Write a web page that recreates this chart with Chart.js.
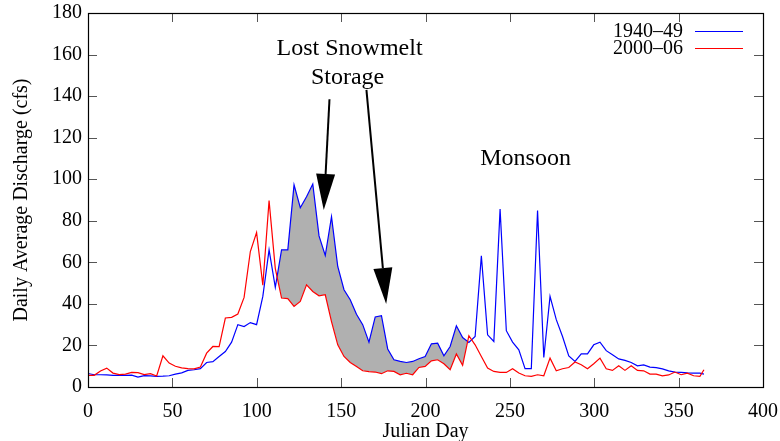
<!DOCTYPE html>
<html>
<head>
<meta charset="utf-8">
<title>Daily Average Discharge</title>
<script src="https://cdn.jsdelivr.net/npm/chart.js@4.4.1/dist/chart.umd.min.js"></script>
<style>
  html, body { margin: 0; padding: 0; background: #fff; }
  #wrap { width: 780px; height: 441px; }
</style>
</head>
<body>
<div id="wrap"><canvas id="flowChart" width="780" height="441"></canvas></div>
<script>
// Julian day of each averaged point
var days = [0, 3.7, 7.4, 11.1, 14.8, 18.5, 22.2, 25.9, 29.6, 33.3, 37.0, 40.7, 44.4, 48.1, 51.8, 55.5, 59.2, 62.9, 66.6, 70.3,
  74.0, 77.7, 81.4, 85.1, 88.8, 92.5, 96.2, 99.9, 103.6, 107.3, 111.0, 114.7, 118.4, 122.1, 125.8, 129.5, 133.2, 136.9, 140.6, 144.3,
  148.0, 151.7, 155.4, 159.1, 162.8, 166.5, 170.2, 173.9, 177.6, 181.3, 185.0, 188.7, 192.4, 196.1, 199.8, 203.5, 207.2, 210.9, 214.6, 218.3,
  222.0, 225.7, 229.4, 233.1, 236.8, 240.5, 244.2, 247.9, 251.6, 255.3, 259.0, 262.7, 266.4, 270.1, 273.8, 277.5, 281.2, 284.9, 288.6, 292.3,
  296.0, 299.7, 303.4, 307.1, 310.8, 314.5, 318.2, 321.9, 325.6, 329.3, 333.0, 336.7, 340.4, 344.1, 347.8, 351.5, 355.2, 358.9, 362.6, 365.0];

// 1940-49 daily average discharge (cfs)
var flow1940s = [6.5, 5.9, 5.9, 5.8, 5.6, 5.6, 5.6, 5.7, 4.8, 5.5, 5.4, 5.1, 5.2, 5.4, 6.2, 6.8, 8.0, 8.3, 8.8, 11.8,
  12.2, 14.7, 17.1, 21.6, 30.0, 29.1, 31.0, 30.0, 43.6, 66.0, 48.0, 66.0, 66.0, 97.3, 86.3, 91.6, 97.7, 72.7, 63.3, 82.0,
  58.0, 46.8, 42.0, 35.0, 30.0, 21.6, 33.7, 34.3, 18.3, 13.1, 12.3, 11.8, 12.3, 13.6, 14.7, 20.8, 21.1, 15.0, 19.5, 29.5,
  23.8, 21.4, 24.3, 63.1, 25.1, 21.9, 85.6, 27.1, 21.6, 17.9, 8.8, 8.8, 84.9, 14.2, 43.6, 32.4, 24.3, 15.0, 12.3, 15.9,
  15.9, 20.3, 21.6, 17.5, 15.5, 13.5, 12.8, 11.8, 10.2, 10.6, 9.6, 9.3, 8.7, 7.8, 7.2, 7.0, 6.8, 6.7, 6.7, 6.2];

// 2000-06 daily average discharge (cfs)
var flow2000s = [5.6, 5.6, 7.7, 9.1, 6.7, 6.0, 6.2, 7.0, 6.9, 6.0, 6.4, 5.3, 15.0, 11.5, 10.0, 9.2, 8.8, 8.7, 9.6, 16.3,
  19.5, 19.4, 33.2, 33.5, 35.1, 43.1, 65.2, 74.3, 49.0, 89.7, 57.0, 42.8, 42.5, 38.8, 41.2, 49.2, 46.0, 43.9, 44.4, 31.5,
  20.3, 14.7, 11.8, 9.9, 7.8, 7.4, 7.2, 6.4, 7.8, 7.5, 5.9, 6.6, 5.9, 9.4, 9.9, 12.6, 13.1, 11.2, 8.3, 15.9,
  10.4, 24.7, 20.3, 14.7, 9.1, 7.5, 7.0, 7.0, 8.8, 6.7, 5.4, 5.1, 5.9, 5.4, 13.9, 7.8, 8.8, 9.4, 12.0, 10.7,
  8.8, 11.2, 13.9, 8.8, 8.0, 10.2, 8.0, 10.2, 8.0, 7.8, 6.2, 6.2, 5.4, 5.8, 7.2, 5.9, 6.7, 5.4, 5.1, 8.3];

var seriesNames = ['1940\u201349', '2000\u201306'];
var seriesColors = ['#0000ff', '#ff0000'];
var xTicks = [0, 50, 100, 150, 200, 250, 300, 350, 400];
var yTicks = [0, 20, 40, 60, 80, 100, 120, 140, 160, 180];

// day window of the shaded "lost snowmelt storage" area
var lostStorageDays = [111, 226];

function toPoints(values, from, to) {
  var pts = [];
  for (var i = 0; i < days.length; i++) {
    if (days[i] >= from && days[i] <= to) pts.push({ x: days[i], y: values[i] });
  }
  return pts;
}

var serif = '"Liberation Serif", "DejaVu Serif", serif';

// border, inward ticks, key and the arrow notes, gnuplot style
var gnuplotDecor = {
  id: 'gnuplotDecor',
  afterDatasetsDraw: function (chart) {
    var ctx = chart.ctx;
    var area = chart.chartArea;
    var xs = chart.scales.x, ys = chart.scales.y;
    var tl = 9;
    ctx.save();

    ctx.strokeStyle = '#555';
    ctx.lineWidth = 1;
    ctx.beginPath();
    xTicks.forEach(function (v) {
      var px = Math.round(xs.getPixelForValue(v)) + 0.5;
      ctx.moveTo(px, area.bottom); ctx.lineTo(px, area.bottom - tl);
      ctx.moveTo(px, area.top); ctx.lineTo(px, area.top + tl);
    });
    yTicks.forEach(function (v) {
      var py = Math.round(ys.getPixelForValue(v)) + 0.5;
      ctx.moveTo(area.left, py); ctx.lineTo(area.left + tl, py);
      ctx.moveTo(area.right, py); ctx.lineTo(area.right - tl, py);
    });
    ctx.stroke();

    ctx.strokeStyle = '#000';
    ctx.lineWidth = 1.2;
    ctx.strokeRect(Math.round(area.left) + 0.5, Math.round(area.top) + 0.5,
      Math.round(area.right - area.left), Math.round(area.bottom - area.top));

    // key
    ctx.font = '20px ' + serif;
    ctx.textAlign = 'right';
    ctx.textBaseline = 'middle';
    seriesNames.forEach(function (name, i) {
      var y = area.top + 18 + i * 16.5;
      ctx.fillStyle = '#000';
      ctx.fillText(name, area.right - 80, y + 1);
      ctx.strokeStyle = seriesColors[i];
      ctx.lineWidth = 1.2;
      ctx.beginPath();
      ctx.moveTo(area.right - 68, Math.round(y) + 0.5);
      ctx.lineTo(area.right - 20, Math.round(y) + 0.5);
      ctx.stroke();
    });

    // notes
    ctx.fillStyle = '#000';
    ctx.font = '24px ' + serif;
    ctx.textAlign = 'center';
    ctx.fillText('Lost Snowmelt', xs.getPixelForValue(155), ys.getPixelForValue(163));
    ctx.fillText('Storage', xs.getPixelForValue(153.8), ys.getPixelForValue(148.8));
    ctx.fillText('Monsoon', xs.getPixelForValue(259.3), ys.getPixelForValue(110));

    var arrows = [
      [[143.1, 138.5], [139.7, 85.2]],
      [[165.0, 143.0], [176.7, 40.0]]
    ];
    arrows.forEach(function (a) {
      var x0 = xs.getPixelForValue(a[0][0]), y0 = ys.getPixelForValue(a[0][1]);
      var x1 = xs.getPixelForValue(a[1][0]), y1 = ys.getPixelForValue(a[1][1]);
      var dx = x1 - x0, dy = y1 - y0, len = Math.sqrt(dx * dx + dy * dy);
      var ux = dx / len, uy = dy / len;
      var headLen = 36, headHalf = 9.5;
      var bx = x1 - ux * headLen, by = y1 - uy * headLen;
      ctx.strokeStyle = '#000';
      ctx.lineWidth = 2;
      ctx.beginPath();
      ctx.moveTo(x0, y0); ctx.lineTo(bx, by);
      ctx.stroke();
      ctx.beginPath();
      ctx.moveTo(x1, y1);
      ctx.lineTo(bx - uy * headHalf, by + ux * headHalf);
      ctx.lineTo(bx + uy * headHalf, by - ux * headHalf);
      ctx.closePath();
      ctx.fill();
    });

    ctx.restore();
  }
};

var ctx = document.getElementById('flowChart').getContext('2d');
var flowChart = new Chart(ctx, {
  type: 'line',
  data: {
    datasets: [
      {
        label: seriesNames[0],
        data: toPoints(flow1940s, 0, 400),
        borderColor: seriesColors[0],
        borderWidth: 1.2,
        pointRadius: 0,
        tension: 0,
        fill: false,
        order: 2
      },
      {
        label: seriesNames[1],
        data: toPoints(flow2000s, 0, 400),
        borderColor: seriesColors[1],
        borderWidth: 1.2,
        pointRadius: 0,
        tension: 0,
        fill: false,
        order: 1
      },
      {
        label: 'storage top',
        data: toPoints(flow1940s, lostStorageDays[0], lostStorageDays[1]),
        borderWidth: 0,
        borderColor: 'rgba(0,0,0,0)',
        pointRadius: 0,
        tension: 0,
        fill: { target: 3, above: '#b0b0b0', below: 'rgba(0,0,0,0)' },
        order: 3
      },
      {
        label: 'storage bottom',
        data: toPoints(flow2000s, lostStorageDays[0], lostStorageDays[1]),
        borderWidth: 0,
        borderColor: 'rgba(0,0,0,0)',
        pointRadius: 0,
        tension: 0,
        fill: false,
        order: 4
      }
    ]
  },
  options: {
    responsive: false,
    animation: false,
    devicePixelRatio: 1,
    layout: { padding: { top: 13, right: 17, left: 0, bottom: 0 } },
    plugins: {
      legend: { display: false },
      tooltip: { enabled: false }
    },
    scales: {
      x: {
        type: 'linear',
        min: 0,
        max: 400,
        grid: { display: false, drawTicks: false },
        border: { display: false },
        ticks: {
          stepSize: 50,
          maxRotation: 0,
          padding: 13,
          color: '#000',
          font: { family: serif, size: 20 }
        },
        title: {
          display: true,
          text: 'Julian Day',
          color: '#000',
          padding: { top: 0, bottom: 0 },
          font: { family: serif, size: 20, lineHeight: 0.9 }
        },
        afterFit: function (scale) {
          scale.height = 54;
          scale.paddingLeft = 0;
          scale.paddingRight = 0;
        }
      },
      y: {
        min: 0,
        max: 180,
        grid: { display: false, drawTicks: false },
        border: { display: false },
        ticks: {
          stepSize: 20,
          padding: 6,
          color: '#000',
          font: { family: serif, size: 20 }
        },
        title: {
          display: true,
          text: 'Daily Average Discharge (cfs)',
          color: '#000',
          padding: { top: 10, bottom: 0 },
          font: { family: serif, size: 20 }
        },
        afterFit: function (scale) {
          scale.width = 88;
          scale.paddingTop = 0;
          scale.paddingBottom = 0;
        }
      }
    }
  },
  plugins: [gnuplotDecor]
});
</script>
</body>
</html>
